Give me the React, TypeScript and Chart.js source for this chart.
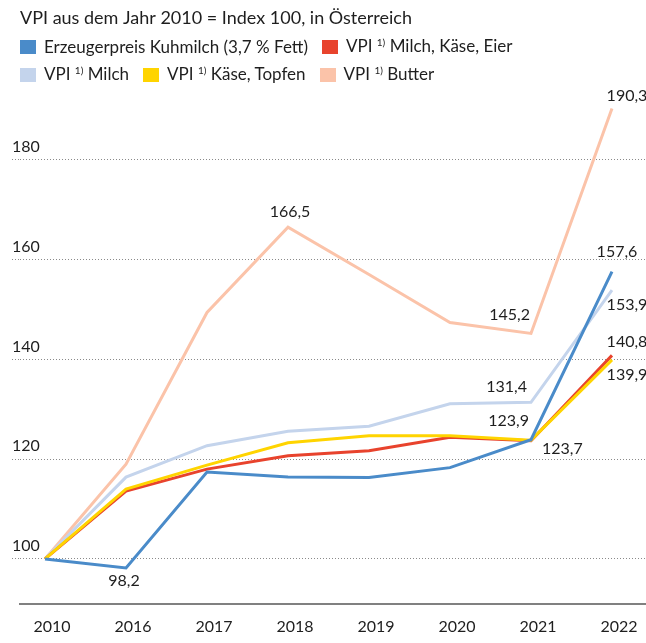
import React, { useEffect, useRef } from 'react';
import { Chart, registerables } from 'chart.js';

Chart.register(...registerables);

const titleText = 'VPI aus dem Jahr 2010 = Index 100, in Österreich';
const categories = ['2010', '2016', '2017', '2018', '2019', '2020', '2021', '2022'];
const seriesNames = [
  'Erzeugerpreis Kuhmilch (3,7 % Fett)',
  'VPI ¹⁾ Milch, Käse, Eier',
  'VPI ¹⁾ Milch',
  'VPI ¹⁾ Käse, Topfen',
  'VPI ¹⁾ Butter',
];
const erzeugerpreis = [100, 98.2, 117.4, 116.4, 116.3, 118.3, 123.9, 157.6];
const milchKaeseEier = [100, 113.6, 118.0, 120.7, 121.7, 124.4, 123.7, 140.8];
const milch = [100, 116.4, 122.7, 125.6, 126.6, 131.1, 131.4, 153.9];
const kaeseTopfen = [100, 114.0, 118.8, 123.3, 124.7, 124.7, 123.8, 139.9];
const butter = [100, 119.0, 149.4, 166.5, 157.0, 147.4, 145.2, 190.3];
const yTicks = [100, 120, 140, 160, 180];

const seriesValues = [erzeugerpreis, milchKaeseEier, milch, kaeseTopfen, butter];
const seriesColors = ['#4a8bc9', '#e8432d', '#c4d4ec', '#ffd400', '#fbc3a9'];
const seriesOrder = [1, 3, 4, 2, 5];

// which points carry a value label, and where the label sits relative to the point
const valueLabels = [
  { s: 0, i: 1, dx: -2, dy: 13, align: 'center' },
  { s: 4, i: 3, dx: 2, dy: -15, align: 'center' },
  { s: 4, i: 6, dx: -1, dy: -19, align: 'right' },
  { s: 2, i: 6, dx: -4, dy: -15, align: 'right' },
  { s: 0, i: 6, dx: -2, dy: -19, align: 'right' },
  { s: 1, i: 6, dx: 11, dy: 8, align: 'left' },
  { s: 4, i: 7, dx: 15, dy: -13, align: 'center' },
  { s: 0, i: 7, dx: 5, dy: -20, align: 'center' },
  { s: 2, i: 7, dx: 15, dy: 15, align: 'center' },
  { s: 1, i: 7, dx: 15, dy: -14, align: 'center' },
  { s: 3, i: 7, dx: 15, dy: 15, align: 'center' },
];

const FONT = "Lato, 'DejaVu Sans', sans-serif";
const TEXT = '#1e1e1e';

const fmt = (v: number) => v.toFixed(1).replace('.', ',');

const labelPlugin = {
  id: 'valueLabels',
  afterDatasetsDraw(chart: any) {
    const ctx = chart.ctx;
    ctx.save();
    ctx.font = `16px ${FONT}`;
    ctx.fillStyle = TEXT;
    ctx.textBaseline = 'middle';
    for (const l of valueLabels) {
      const meta = chart.getDatasetMeta(l.s);
      const pt = meta.data[l.i];
      if (!pt) continue;
      ctx.textAlign = l.align;
      ctx.fillText(fmt(seriesValues[l.s][l.i]), pt.x + l.dx, pt.y + l.dy);
    }
    ctx.restore();
  },
};

function LegendText({ text }: { text: string }) {
  const parts = text.split('¹⁾');
  if (parts.length < 2) return <span>{text}</span>;
  return (
    <span>
      {parts[0]}
      <span style={{ fontSize: 10, position: 'relative', top: -6 }}>1)</span>
      {parts[1]}
    </span>
  );
}

export default function App() {
  const ref = useRef<HTMLCanvasElement>(null);
  useEffect(() => {
    if (!ref.current) return;
    const chart = new Chart(ref.current, {
      type: 'line',
      data: {
        datasets: seriesValues.map((vals, s) => ({
          label: seriesNames[s],
          data: vals.map((y, i) => ({ x: i, y })),
          borderColor: seriesColors[s],
          backgroundColor: seriesColors[s],
          borderWidth: 3,
          pointRadius: 0,
          tension: 0,
          order: seriesOrder[s],
        })),
      },
      options: {
        animation: false,
        responsive: true,
        maintainAspectRatio: false,
        devicePixelRatio: 1,
        layout: { padding: { left: 9, right: 0, top: 0, bottom: -6 } },
        plugins: {
          tooltip: { enabled: false },
          legend: { display: false },
          title: {
            display: true,
            text: titleText,
            align: 'start',
            fullSize: false,
            color: TEXT,
            font: { family: FONT, size: 18, weight: 'normal', lineHeight: 1 },
            padding: { top: 9, bottom: 68 },
          },
        },
        scales: {
          x: {
            type: 'linear',
            min: -0.309,
            max: 7.42,
            afterBuildTicks: (scale: any) => {
              scale.ticks = categories.map((_, i) => ({ value: i }));
            },
            grid: { display: false, drawTicks: false },
            border: { display: true, color: '#808080', width: 2 },
            ticks: {
              callback: (v: any) => categories[v],
              color: TEXT,
              font: { family: FONT, size: 16 },
              padding: 13,
              labelOffset: 7,
              maxRotation: 0,
              autoSkip: false,
            },
          },
          y: {
            type: 'linear',
            min: 91,
            max: 193,
            afterBuildTicks: (scale: any) => {
              scale.ticks = yTicks.map((v) => ({ value: v }));
            },
            afterFit: (scale: any) => {
              scale.width = 11;
            },
            grid: {
              color: '#8a8a8a',
              lineWidth: 1,
              drawTicks: true,
              tickLength: 8,
              tickColor: '#8a8a8a',
              tickBorderDash: [1, 2],
            },
            border: { display: false, dash: [1, 2] },
            ticks: {
              mirror: true,
              padding: -8,
              labelOffset: -13,
              color: TEXT,
              font: { family: FONT, size: 16 },
            },
          },
        },
      },
      plugins: [labelPlugin],
    } as any);
    return () => chart.destroy();
  }, []);
  return (
    <div style={{ position: 'fixed', left: 0, top: 0, width: 646, height: 643, background: '#fff' }}>
      <canvas ref={ref} />
      <div
        style={{
          position: 'absolute',
          left: 20,
          top: 33,
          width: 580,
          display: 'flex',
          flexWrap: 'wrap',
          fontFamily: FONT,
          fontSize: 17,
          lineHeight: '26px',
          color: TEXT,
        }}
      >
        {seriesNames.map((name, s) => (
          <div key={s} style={{ display: 'flex', alignItems: 'center', marginRight: 14, whiteSpace: 'nowrap' }}>
            <span
              style={{ display: 'inline-block', width: 16, height: 14, background: seriesColors[s], marginRight: 8 }}
            />
            <LegendText text={name} />
          </div>
        ))}
      </div>
    </div>
  );
}
